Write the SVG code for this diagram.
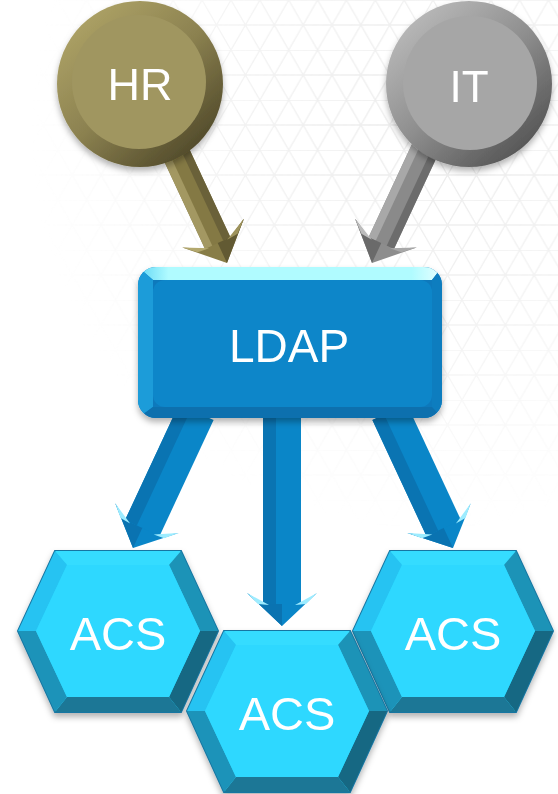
<svg xmlns="http://www.w3.org/2000/svg" width="558" height="794" viewBox="0 0 558 794">
<style>
.lbl{font-family:"Liberation Sans",Arial,sans-serif;fill:#ffffff;text-anchor:middle}
.grid{stroke:#ebebeb;stroke-width:1.3;fill:none}
</style>
<defs>
<pattern id="tri" width="28.87" height="50" patternUnits="userSpaceOnUse">
<path class="grid" d="M0,0H28.87M0,25H28.87M0,0L28.87,50M28.87,0L0,50"/>
</pattern>
<radialGradient id="fade" cx="430" cy="130" r="400" gradientUnits="userSpaceOnUse">
<stop offset="0" stop-color="#fff" stop-opacity="1"/>
<stop offset="0.5" stop-color="#fff" stop-opacity="0.6"/>
<stop offset="1" stop-color="#fff" stop-opacity="0"/>
</radialGradient>
<mask id="gm"><rect width="558" height="794" fill="url(#fade)"/></mask>
<filter id="sh" x="-20%" y="-20%" width="140%" height="150%">
<feDropShadow dx="0" dy="4" stdDeviation="3" flood-color="#000" flood-opacity="0.3"/>
</filter>
<linearGradient id="hrRing" x1="0.15" y1="0.1" x2="0.85" y2="0.9">
<stop offset="0" stop-color="#aca165"/>
<stop offset="0.5" stop-color="#8b8150"/>
<stop offset="1" stop-color="#514a2a"/>
</linearGradient>
<linearGradient id="itRing" x1="0.15" y1="0.1" x2="0.85" y2="0.9">
<stop offset="0" stop-color="#b8b8b8"/>
<stop offset="0.5" stop-color="#8e8e8e"/>
<stop offset="1" stop-color="#555555"/>
</linearGradient>
<linearGradient id="ldapTop" x1="0" y1="0" x2="1" y2="0">
<stop offset="0" stop-color="#5fd6f5"/>
<stop offset="0.1" stop-color="#b0fbff"/>
<stop offset="0.9" stop-color="#b0fbff"/>
<stop offset="1" stop-color="#e8ffff"/>
</linearGradient>
<clipPath id="ldapClip"><rect x="138" y="267" width="304" height="151" rx="18"/></clipPath>
<g id="headB">
<polygon points="-19,-22 -35,-33 0,0 35,-33 19,-22" fill="#0a86c8"/>
<polygon points="-19,-22 -35,-33 0,0 0,-22" fill="#0a73b1"/>
<polygon points="-35,-33 -13,-21 -24,-22" fill="#9decff"/>
<polygon points="35,-33 13,-21 24,-22" fill="#9decff"/>
</g>
<g id="headO">
<polygon points="-14,-22 -34,-33 0,0 34,-33 14,-22" fill="#887d47"/>
<polygon points="14,-22 34,-33 0,0 0,-22" fill="#625a33"/>
<polygon points="-34,-33 -10,-21 -22,-22" fill="#b3a86e"/>
<polygon points="34,-33 10,-21 22,-22" fill="#9e935c"/>
</g>
<g id="headG">
<polygon points="-14,-22 -34,-33 0,0 34,-33 14,-22" fill="#8d8d8d"/>
<polygon points="-14,-22 -34,-33 0,0 0,-22" fill="#6a6a6a"/>
<polygon points="-34,-33 -10,-21 -22,-22" fill="#bdbdbd"/>
<polygon points="34,-33 10,-21 22,-22" fill="#a8a8a8"/>
</g>
<g id="hex">
<polygon points="-63,-80 63,-80 100,0 63,81 -63,81 -100,0" fill="#2bd3fb" stroke="#1676a2" stroke-width="2"/>
<polygon points="-63,-80 63,-80 51,-66 -51,-66" fill="#35dcff"/>
<polygon points="-63,-80 -51,-66 -82,0 -100,0" fill="#26c3f2"/>
<polygon points="63,-80 100,0 82,0 51,-66" fill="#1f93b7"/>
<polygon points="100,0 63,81 51,66 82,0" fill="#146883"/>
<polygon points="63,81 -63,81 -51,66 51,66" fill="#1a7796"/>
<polygon points="-63,81 -100,0 -82,0 -51,66" fill="#1f93b9"/>
<polygon points="-51,-66 51,-66 82,0 51,66 -51,66 -82,0" fill="#2ed8ff"/>
</g>
</defs>

<rect width="558" height="794" fill="#ffffff"/>
<rect width="558" height="794" fill="url(#tri)" mask="url(#gm)"/>

<g id="connectors">
<g id="arrow-hr" transform="translate(227,263) rotate(-25)">
<rect x="-14" y="-130" width="28" height="110" fill="#847944"/>
<rect x="-14" y="-130" width="8" height="110" fill="#a39862"/>
<rect x="6" y="-130" width="8" height="110" fill="#6a6139"/>
<use href="#headO"/>
</g>
<g id="arrow-it" transform="translate(372,263) rotate(25)">
<rect x="-14" y="-130" width="28" height="110" fill="#8a8a8a"/>
<rect x="-14" y="-130" width="8" height="110" fill="#a8a8a8"/>
<rect x="6" y="-130" width="8" height="110" fill="#6c6c6c"/>
<use href="#headG"/>
</g>
<g id="arrow-acs1" transform="translate(133,548) rotate(25)">
<rect x="-19" y="-150" width="38" height="130" fill="#0a86c8"/>
<rect x="-19" y="-150" width="13" height="130" fill="#0a74b2"/>
<use href="#headB"/>
</g>
<g id="arrow-acs2" transform="translate(282,626)">
<rect x="-19" y="-215" width="38" height="195" fill="#0a86c8"/>
<rect x="-19" y="-215" width="13" height="195" fill="#0a74b2"/>
<use href="#headB"/>
</g>
<g id="arrow-acs3" transform="translate(453,548) rotate(-25)">
<rect x="-19" y="-150" width="38" height="130" fill="#0a86c8"/>
<rect x="-19" y="-150" width="13" height="130" fill="#0a74b2"/>
<use href="#headB"/>
</g>
</g>

<g id="node-hr" filter="url(#sh)">
<circle cx="140" cy="84" r="83" fill="url(#hrRing)"/>
<circle cx="139" cy="82" r="67" fill="#a09661"/>
<text class="lbl" x="140" y="100" font-size="45">HR</text>
</g>

<g id="node-it" filter="url(#sh)">
<circle cx="469" cy="84" r="83" fill="url(#itRing)"/>
<circle cx="470" cy="83" r="67" fill="#a6a6a6"/>
<text class="lbl" x="469" y="102" font-size="44">IT</text>
</g>

<g id="node-ldap" filter="url(#sh)">
<rect x="138" y="267" width="304" height="151" rx="18" fill="#0a79bc"/>
<g clip-path="url(#ldapClip)">
<polygon points="138,267 442,267 432,280 153,280" fill="url(#ldapTop)"/>
<polygon points="138,267 153,280 153,407 138,418" fill="#1b9cd9"/>
<polygon points="442,267 442,418 432,407 432,280" fill="#0a7dbf"/>
<polygon points="138,418 442,418 432,407 153,407" fill="#096fae"/>
</g>
<rect x="153" y="280" width="279" height="127" rx="12" fill="#0886c9"/>
<text class="lbl" x="289" y="362" font-size="46">LDAP</text>
</g>

<g id="node-acs1" filter="url(#sh)">
<use href="#hex" transform="translate(118,631)"/>
<text class="lbl" x="118" y="650" font-size="47">ACS</text>
</g>
<g id="node-acs3" filter="url(#sh)">
<use href="#hex" transform="translate(453,631)"/>
<text class="lbl" x="453" y="650" font-size="47">ACS</text>
</g>
<g id="node-acs2" filter="url(#sh)">
<use href="#hex" transform="translate(287,711)"/>
<text class="lbl" x="287" y="730" font-size="47">ACS</text>
</g>
</svg>
